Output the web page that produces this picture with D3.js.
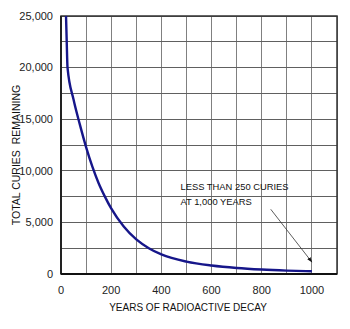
<!DOCTYPE html>
<html><head><meta charset="utf-8">
<script src="https://cdn.jsdelivr.net/npm/d3@7"></script>
<style>body{margin:0;background:#fff;}svg{display:block;font-family:"Liberation Sans",Arial,sans-serif;}</style>
</head><body>
<svg id="c" width="350" height="329"></svg>
<script>
const years = [20, 22.8, 26, 50, 75, 100, 125, 150, 175, 200, 250, 300, 350, 400, 500, 600, 700, 800, 900, 1000];
const curies = [25000, 22500, 20000, 16900, 14500, 12300, 10400, 8800, 7500, 6350, 4600, 3350, 2500, 1900, 1200, 820, 580, 430, 330, 260];
const xTicks = [0, 200, 400, 600, 800, 1000];
const yTicks = [0, 5000, 10000, 15000, 20000, 25000];
const xGrid = d3.range(0, 1101, 100);
const yGrid = d3.range(0, 25001, 2500);
const annotation = ["LESS THAN 250 CURIES", "AT 1,000 YEARS"];

const svg = d3.select("#c");
const L = 61, R = 337, T = 16, B = 274;
const x = d3.scaleLinear().domain([0, 1100]).range([L, R]);
const y = d3.scaleLinear().domain([0, 25000]).range([B, T]);

svg.append("g").selectAll("line").data(xGrid).join("line")
  .attr("x1", d => x(d)).attr("x2", d => x(d)).attr("y1", T).attr("y2", B)
  .attr("stroke", "#808080").attr("stroke-width", 1).attr("shape-rendering", "crispEdges");
svg.append("g").selectAll("line").data(yGrid).join("line")
  .attr("x1", L).attr("x2", R).attr("y1", d => y(d)).attr("y2", d => y(d))
  .attr("stroke", "#606060").attr("stroke-width", 1).attr("shape-rendering", "crispEdges");

svg.append("rect").attr("x", L).attr("y", T).attr("width", R - L).attr("height", B - T)
  .attr("fill", "none").attr("stroke", "#333").attr("stroke-width", 1.5);
svg.append("line").attr("x1", L).attr("x2", L).attr("y1", T).attr("y2", B).attr("stroke", "#222").attr("stroke-width", 2);
svg.append("line").attr("x1", L).attr("x2", R).attr("y1", B).attr("y2", B).attr("stroke", "#111").attr("stroke-width", 2);

const data = years.map((d, i) => [d, curies[i]]);
const line = d3.line().x(d => x(d[0])).y(d => y(d[1])).curve(d3.curveMonotoneX);
svg.append("path").datum(data).attr("d", line).attr("fill", "none")
  .attr("stroke", "#16168a").attr("stroke-width", 2.4);

const fmt = d3.format(",");
svg.append("g").selectAll("text").data(yTicks).join("text")
  .attr("x", 53).attr("y", d => y(d)).attr("dy", "0.35em").attr("text-anchor", "end")
  .attr("font-size", 11).attr("fill", "#222").text(d => fmt(d));
svg.append("g").selectAll("text").data(xTicks).join("text")
  .attr("x", d => x(d)).attr("y", 290).attr("dy", "0.35em").attr("text-anchor", "middle")
  .attr("font-size", 11).attr("fill", "#222").text(d => d);

svg.append("text").attr("x", 188).attr("y", 307).attr("dy", "0.35em").attr("text-anchor", "middle")
  .attr("font-size", 10).attr("fill", "#111").text("YEARS OF RADIOACTIVE DECAY");
svg.append("text").attr("transform", "translate(16,155) rotate(-90)").attr("dy", "0.35em")
  .attr("text-anchor", "middle").attr("font-size", 10.5).attr("fill", "#111")
  .attr("xml:space", "preserve").style("white-space", "pre").text("TOTAL CURIES  REMAINING");

svg.append("g").selectAll("text").data(annotation).join("text")
  .attr("x", x(476)).attr("y", (d, i) => 187 + i * 15).attr("dy", "0.35em")
  .attr("font-size", 9.4).attr("fill", "#111").text(d => d);

svg.append("defs").append("marker").attr("id", "ah").attr("viewBox", "0 0 10 10")
  .attr("refX", 9).attr("refY", 5).attr("markerWidth", 7).attr("markerHeight", 7)
  .attr("orient", "auto").append("path").attr("d", "M0,1.5L10,5L0,8.5Z").attr("fill", "#111");
svg.append("line").attr("x1", x(836)).attr("y1", y(6270)).attr("x2", x(1000)).attr("y2", y(1150))
  .attr("stroke", "#333").attr("stroke-width", 0.8).attr("marker-end", "url(#ah)");
</script>
</body></html>
